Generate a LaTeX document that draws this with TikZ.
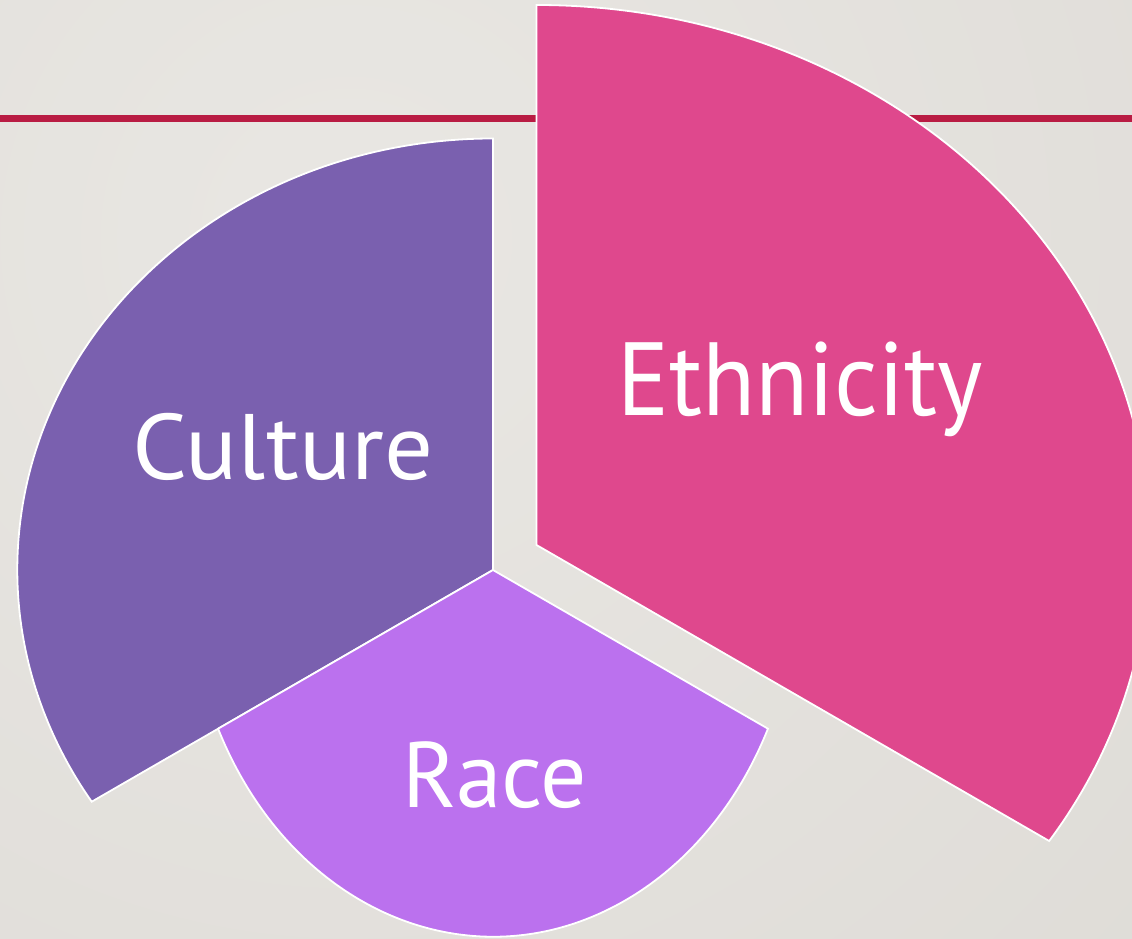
\documentclass[tikz,border=0pt]{standalone}
\usepackage{fontspec}
\setmainfont{PT Sans}
\definecolor{bgA}{HTML}{E9E7E3}
\definecolor{bgB}{HTML}{DCD9D4}
\definecolor{redline}{HTML}{B91C43}
\definecolor{culturecol}{HTML}{7A60AF}
\definecolor{racecol}{HTML}{BB71EE}
\definecolor{ethniccol}{HTML}{DF488D}
\begin{document}
\begin{tikzpicture}[x=1pt,y=1pt,
  sector/.style={draw=white,line width=1.8pt,line join=miter},
  lbl/.style={text=white,inner sep=0pt,anchor=base}]
\useasboundingbox (0,0) rectangle (1132,938);
\begin{scope}
\clip (0,0) rectangle (1132,938);
\shade[inner color=bgA,outer color=bgB] (350,700) circle (1400pt);
\end{scope}
\draw[redline,line width=7pt] (0,819) -- (1132,819);
% Culture sector
\draw[sector,fill=culturecol] (493,368) -- (493,799.5)
  arc[start angle=90,end angle=212.48,x radius=475.7pt,y radius=431.5pt] -- cycle;
% Race sector
\draw[sector,fill=racecol] (493,368) -- (218.1,209.3)
  arc[start angle=205.65,end angle=334.35,x radius=305pt,y radius=366.7pt] -- cycle;
% Ethnicity sector
\draw[sector,fill=ethniccol] (536.5,393) -- (536.5,933)
  arc[start angle=90,end angle=-33.24,x radius=613pt,y radius=540pt] -- cycle;
\node[lbl,font=\fontsize{93}{100}\selectfont] (culture) at (282.7,458) {\scalebox{1.04}[1]{Culture}};
\node[lbl,font=\fontsize{104}{110}\selectfont] (ethnicity) at (800,522.3) {\scalebox{0.935}[1]{Ethnicity}};
\node[lbl,font=\fontsize{93}{100}\selectfont] (race) at (495,130.3) {\scalebox{0.985}[1]{Race}};
\end{tikzpicture}
\end{document}
